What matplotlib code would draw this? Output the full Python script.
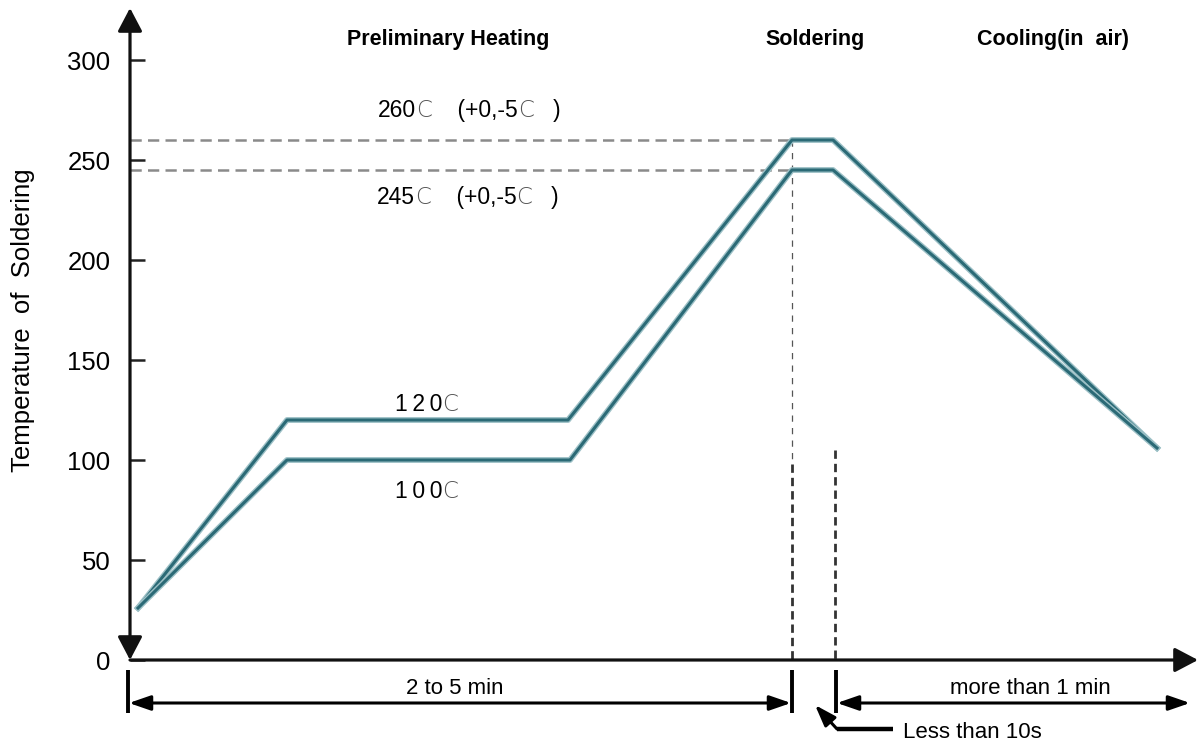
import matplotlib

matplotlib.use("Agg")

import matplotlib.pyplot as plt
import matplotlib.patheffects as pe

plt.rcParams['font.family'] = ['Liberation Sans', 'DejaVu Sans']

# reflow profile, x is an arbitrary time scale (no units on the axis)
upper_x = [138, 287, 568, 792, 833, 1157]
upper_temp = [26, 120, 120, 260, 260, 106]
lower_x = [138, 287, 570, 792, 833, 1157]
lower_temp = [26, 100, 100, 245, 245, 106]

peak_limits = [260, 245]
yticks = [0, 50, 100, 150, 200, 250, 300]

# phase boundaries on the time axis
t_start = 128
t_solder_start = 792
t_solder_end = 836
t_end = 1190

line_col = '#2b6a76'
fx = [pe.Stroke(linewidth=4.2, foreground='#9cc0c6'), pe.Normal()]

fig = plt.figure(figsize=(12, 7.47), dpi=100)
ax = fig.add_axes([0, 0, 1, 1])
ax.set_xlim(0, 1200)
ax.set_ylim(-43.5, 330)

for s in ['top', 'right', 'bottom']:
    ax.spines[s].set_visible(False)
ax.spines['left'].set_position(('data', 130))
ax.spines['left'].set_visible(False)
ax.set_xticks([])
ax.set_yticks(yticks)
ax.set_yticklabels([str(v) for v in yticks])
ax.tick_params(axis='y', direction='in', length=11, width=1.8, color='#222222',
               labelsize=18.5, pad=14)

# axes with arrowheads
ax.annotate('', xy=(130, 326), xytext=(130, 0),
            arrowprops=dict(arrowstyle='<|-|>,head_length=0.95,head_width=0.5',
                            mutation_scale=15, lw=2.3, color='#111111',
                            shrinkA=0, shrinkB=0))
ax.annotate('', xy=(1198, 0), xytext=(130, 0),
            arrowprops=dict(arrowstyle='-|>,head_length=0.95,head_width=0.5',
                            mutation_scale=15, lw=2.3, color='#111111',
                            shrinkA=0, shrinkB=0))

# tolerance lines for the peak temperatures
for lim in peak_limits:
    ax.plot([130, t_solder_start], [lim, lim], ls=(0, (4.5, 2.5)), lw=1.8,
            color='#8a8a8a', zorder=1)

# boundaries of the soldering window
ax.plot([t_solder_start, t_solder_start], [260, 98], ls=(0, (5, 5)), lw=0.9,
        color='#555555', zorder=1)
ax.plot([t_solder_start, t_solder_start], [98, 0], ls=(0, (3, 1.8)), lw=2,
        color='#333333', zorder=1)
ax.plot([t_solder_end - 1, t_solder_end - 1], [105, 0], ls=(0, (3, 1.8)), lw=2,
        color='#333333', zorder=1)

ax.plot(upper_x, upper_temp, color=line_col, lw=2.2, path_effects=fx, zorder=3)
ax.plot(lower_x, lower_temp, color=line_col, lw=2.2, path_effects=fx, zorder=3)

# phase titles
ax.text(448, 310, 'Preliminary Heating', fontsize=15.5, fontweight='bold',
        ha='center', va='center')
ax.text(815, 310, 'Soldering', fontsize=15.5, fontweight='bold',
        ha='center', va='center')
ax.text(1053, 310, 'Cooling(in  air)', fontsize=15.5, fontweight='bold',
        ha='center', va='center')


def temp_label(x, y, parts):
    # digits in black, the degree letter thinner and grey
    prev = ax.text(x, y, parts[0], fontsize=16.5, ha='left', va='baseline')
    for i, p in enumerate(parts[1:]):
        light = (i % 2 == 0)
        prev = ax.annotate(p, xy=(1, 0), xycoords=prev, va='bottom', ha='left',
                           fontsize=16.5,
                           color='#555555' if light else 'black',
                           family=['DejaVu Sans'] if light else None,
                           fontweight='light' if light else 'normal')


temp_label(378, 271.5, ['260', 'C', '    (+0,-5', 'C', '   )'])
temp_label(377, 228, ['245', 'C', '    (+0,-5', 'C', '   )'])
temp_label(395, 124.5, ['1\u20092\u20090', 'C'])
temp_label(395, 81, ['1\u20090\u20090', 'C'])

ax.text(23, 170, 'Temperature  of  Soldering', fontsize=18.5, rotation=90,
        ha='center', va='center')

# duration markers below the time axis
for t in [t_start, t_solder_start, t_solder_end]:
    ax.plot([t, t], [-5, -26.5], color='black', lw=2.8, solid_capstyle='butt')

dbl = dict(arrowstyle='<|-|>,head_length=1.3,head_width=0.45',
           mutation_scale=10, lw=2.2, color='black', shrinkA=0, shrinkB=0)
ax.annotate('', xy=(t_start + 1, -21.5), xytext=(t_solder_start - 1, -21.5),
            arrowprops=dbl)
ax.annotate('', xy=(t_solder_end + 1, -21.5), xytext=(t_end, -21.5),
            arrowprops=dbl)
ax.text(455, -14, '2 to 5 min', fontsize=16, ha='center', va='center')
ax.text(1030, -14, 'more than 1 min', fontsize=16, ha='center', va='center')

ax.plot([837, 893], [-34.5, -34.5], color='black', lw=3.2, solid_capstyle='butt')
ax.annotate('', xy=(815, -22.5), xytext=(837, -34.5),
            arrowprops=dict(arrowstyle='-|>,head_length=1.3,head_width=0.45',
                            mutation_scale=10, lw=2.2, color='black',
                            shrinkA=0, shrinkB=0))
ax.text(903, -36, 'Less than 10s', fontsize=16, ha='left', va='center')

fig.savefig('out.png', dpi=100)
plt.close()
